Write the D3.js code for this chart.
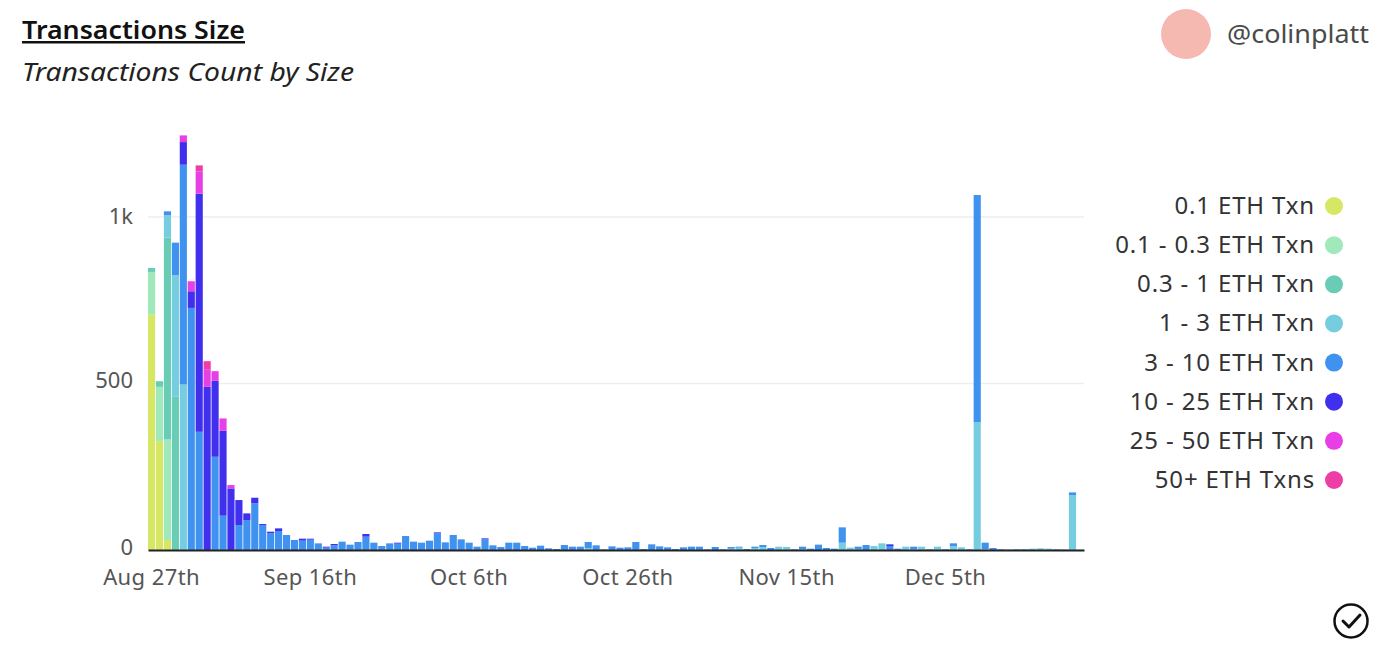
<!DOCTYPE html>
<html>
<head>
<meta charset="utf-8">
<script src="https://cdn.jsdelivr.net/npm/d3@7"></script>
<style>
html, body { margin: 0; padding: 0; background: #fff; }
text { font-family: "Noto Sans", sans-serif; }
</style>
</head>
<body>
<div id="canvas"></div>
<script>
var w = 1400;
var h = 659;

var seriesNames = ["0.1 ETH Txn", "0.1 - 0.3 ETH Txn", "0.3 - 1 ETH Txn", "1 - 3 ETH Txn", "3 - 10 ETH Txn", "10 - 25 ETH Txn", "25 - 50 ETH Txn", "50+ ETH Txns"];
var colors = ["#d6e763", "#a0e9bb", "#69cdb6", "#76cde0", "#4092f0", "#4030ee", "#e83ee6", "#ee3ea6"];

var tickIndex = [0, 20, 40, 60, 80, 100];
var tickLabels = ["Aug 27th", "Sep 16th", "Oct 6th", "Oct 26th", "Nov 15th", "Dec 5th"];
var yTicks = [0, 500, 1000];
var yTickLabels = ["0", "500", "1k"];

// one value per day
var yellow = [707,327,30,0,0,0,0,0,0,0, 0,0,0,0,0,0,0,0,0,0, 0,0,0,0,0,0,0,0,0,0, 0,0,0,0,0,0,0,0,0,0,
  0,0,0,0,0,0,0,0,0,0, 0,0,0,0,0,0,0,0,0,0, 0,0,0,0,0,0,0,0,0,0, 0,0,0,0,0,0,0,0,0,0,
  0,0,0,0,0,0,0,0,0,0, 0,0,0,0,0,0,0,0,0,0, 0,0,0,0,0,2,0,0,0,0, 0,0,0,0,0,0,0,0];
var mint = [128,163,302,0,0,0,0,0,0,0, 0,0,0,0,0,0,0,0,0,0, 0,0,0,0,0,0,0,0,0,0, 0,0,0,0,0,0,0,0,0,0,
  0,0,0,0,0,0,0,0,0,0, 0,0,0,0,0,0,0,0,0,0, 0,0,0,0,0,0,0,0,0,0, 0,0,0,0,0,0,0,0,0,0,
  0,0,0,0,0,0,0,0,0,0, 0,0,0,0,0,0,0,0,0,0, 0,0,0,0,0,0,0,0,0,0, 0,0,0,0,0,0,0,0];
var teal = [12,17,606,460,0,0,0,0,0,0, 0,0,0,0,0,0,0,0,0,0, 0,0,0,0,0,0,0,0,0,0, 0,0,0,0,0,0,0,0,0,0,
  0,0,0,0,0,0,0,0,0,0, 0,0,0,0,0,0,0,0,0,0, 0,0,0,0,0,0,0,0,0,0, 0,0,0,0,0,0,0,0,0,0,
  0,0,0,0,0,0,0,0,0,0, 0,0,0,0,0,0,0,0,0,0, 0,0,0,0,0,0,0,0,0,0, 0,0,0,0,0,0,0,0];
var light = [0,0,67,365,497,0,0,0,0,0, 0,0,0,0,0,0,0,0,0,0, 0,0,0,0,0,0,0,0,0,0, 0,0,0,0,0,0,0,0,0,0,
  0,0,0,0,0,0,0,0,0,0, 0,0,0,0,0,6,0,0,0,0, 0,0,0,0,0,0,0,0,0,0, 0,0,0,4,7,0,6,9,0,10,
  9,0,3,0,0,0,0,22,7,3, 0,12,20,0,0,10,3,10,0,10, 0,12,8,0,384,0,0,0,0,3, 3,4,5,4,3,2,165,1];
var blue = [0,0,12,98,660,727,355,0,280,103, 0,75,90,140,75,50,57,45,30,28, 31,20,7,14,25,16,24,40,22,12, 20,19,42,25,22,28,50,23,45,32,
  22,10,32,14,9,22,22,12,7,13, 5,3,15,10,10,18,14,2,11,7, 8,24,3,17,11,8,3,8,10,10, 2,9,2,5,3,3,4,6,6,0,
  0,2,7,4,16,6,4,46,0,7, 15,0,0,12,4,0,7,0,2,0, 2,8,0,2,682,20,6,2,1,0, 0,0,0,0,0,0,8,0];
var indigo = [0,0,0,0,68,50,715,490,228,255, 185,75,20,17,3,5,8,0,0,6, 3,0,3,4,0,0,0,8,0,0, 0,3,0,0,0,0,3,0,0,0,
  0,0,3,0,0,0,0,0,0,0, 0,0,0,0,0,0,0,0,0,0, 0,0,0,0,0,0,0,0,0,0, 0,0,0,0,0,0,0,0,0,0,
  0,0,0,0,0,0,0,0,0,0, 0,0,0,5,0,0,0,0,0,0, 0,0,0,0,0,0,0,0,0,0, 0,0,0,0,0,0,0,0];
var magenta = [0,0,0,0,20,30,67,53,29,37, 10,0,0,0,0,0,0,0,0,0, 0,0,0,0,0,0,0,0,0,0, 0,0,0,0,0,0,0,0,0,0,
  0,0,0,0,0,0,0,0,0,0, 0,0,0,0,0,0,0,0,0,0, 0,0,0,0,0,0,0,0,0,0, 0,0,0,0,0,0,0,0,0,0,
  0,0,0,0,0,0,0,0,0,0, 0,0,0,0,0,0,0,0,0,0, 0,0,0,0,0,0,0,0,0,0, 0,0,0,0,0,0,0,0];
var pink = [0,0,0,0,0,0,18,24,0,0, 0,0,0,0,0,0,0,0,0,0, 0,0,0,0,0,0,0,0,0,0, 0,0,0,0,0,0,0,0,0,0,
  0,0,0,0,0,0,0,0,0,0, 0,0,0,0,0,0,0,0,0,0, 0,0,0,0,0,0,0,0,0,0, 0,0,0,0,0,0,0,0,0,0,
  0,0,0,0,0,0,0,0,0,0, 0,0,0,0,0,0,0,0,0,0, 0,0,0,0,0,0,0,0,0,0, 0,0,0,0,0,0,0,0];

var allSeries = [yellow, mint, teal, light, blue, indigo, magenta, pink];

var svg = d3.select("#canvas").append("svg")
	.attr("width", w)
	.attr("height", h)
	.style("display", "block")
	.style("background-color", "white");

// header
svg.append("text")
	.attr("x", 22).attr("y", 39)
	.attr("font-size", 25).attr("font-weight", 600)
	.attr("text-decoration", "underline")
	.attr("fill", "#111")
	.attr("textLength", 223).attr("lengthAdjust", "spacingAndGlyphs")
	.text("Transactions Size");
svg.append("text")
	.attr("x", 22).attr("y", 81)
	.attr("font-size", 26).attr("font-style", "italic")
	.attr("fill", "#222")
	.attr("textLength", 332).attr("lengthAdjust", "spacingAndGlyphs")
	.text("Transactions Count by Size");

svg.append("circle")
	.attr("cx", 1186).attr("cy", 34).attr("r", 25)
	.attr("fill", "#f5b9b1");
svg.append("text")
	.attr("x", 1227).attr("y", 43)
	.attr("font-size", 25)
	.attr("fill", "#4a4a4a")
	.attr("textLength", 142).attr("lengthAdjust", "spacingAndGlyphs")
	.text("@colinplatt");

// scales
var days = d3.range(yellow.length);
var xScale = d3.scaleBand()
	.domain(days)
	.range([148, 1084])
	.paddingInner(0.1)
	.paddingOuter(0);
var yScale = d3.scaleLinear()
	.domain([0, 1000])
	.range([550, 217]);

// gridlines
svg.selectAll(".grid")
	.data(yTicks.slice(1))
	.join("line")
	.attr("class", "grid")
	.attr("x1", 148)
	.attr("x2", 1084)
	.attr("y1", function(d){ return yScale(d); })
	.attr("y2", function(d){ return yScale(d); })
	.attr("stroke", "#eeeeee")
	.attr("stroke-width", 1.5);

// stacked bars
var rows = days.map(function(i){
	var row = {day: i};
	seriesNames.forEach(function(name, s){ row[name] = allSeries[s][i]; });
	return row;
});
var stacked = d3.stack().keys(seriesNames)(rows);

svg.selectAll(".layer")
	.data(stacked)
	.join("g")
	.attr("class", "layer")
	.attr("fill", function(d,i){ return colors[i]; })
	.selectAll("rect")
	.data(function(d){ return d.filter(function(v){ return v[1] > v[0]; }); })
	.join("rect")
	.attr("x", function(d){ return xScale(d.data.day); })
	.attr("width", xScale.bandwidth())
	.attr("y", function(d){ return yScale(d[1]); })
	.attr("height", function(d){ return yScale(d[0]) - yScale(d[1]); });

// axes
var xAxis = d3.axisBottom(xScale)
	.tickValues(tickIndex)
	.tickSize(0)
	.tickPadding(19)
	.tickFormat(function(d,i){ return tickLabels[i]; });
var xG = svg.append("g")
	.attr("transform", "translate(0,550)")
	.call(xAxis);
xG.select(".domain").attr("stroke", "#222").attr("stroke-width", 2);
xG.selectAll("text")
	.attr("font-size", 22)
	.attr("fill", "#555")
	.style("letter-spacing", "0.4px")
	.style("font-family", '"Noto Sans", sans-serif');

var yAxis = d3.axisLeft(yScale)
	.tickValues(yTicks)
	.tickSize(0)
	.tickPadding(15)
	.tickFormat(function(d,i){ return yTickLabels[i]; });
var yG = svg.append("g")
	.attr("transform", "translate(148,0)")
	.call(yAxis);
yG.select(".domain").remove();
yG.selectAll("text")
	.attr("y", function(d){ return d == 1000 ? -1 : -3; })
	.attr("font-size", 22)
	.attr("fill", "#555")
	.style("font-family", '"Noto Sans", sans-serif');

// legend
var legendY = d3.scalePoint()
	.domain(seriesNames)
	.range([206, 480]);
var legend = svg.selectAll(".legend")
	.data(seriesNames)
	.join("g")
	.attr("class", "legend")
	.attr("transform", function(d){ return "translate(0," + legendY(d) + ")"; });
legend.append("text")
	.attr("x", 1315)
	.attr("y", 8)
	.attr("text-anchor", "end")
	.attr("font-size", 24)
	.style("letter-spacing", "0.85px")
	.attr("fill", "#333")
	.text(function(d){ return d; });
legend.append("circle")
	.attr("cx", 1334)
	.attr("r", 9)
	.attr("fill", function(d,i){ return colors[i]; });

// check icon
svg.append("circle")
	.attr("cx", 1351).attr("cy", 621).attr("r", 16.5)
	.attr("fill", "none").attr("stroke", "#111").attr("stroke-width", 2.5);
svg.append("path")
	.attr("d", "M1343,621 L1349,627 L1360,615")
	.attr("fill", "none").attr("stroke", "#111").attr("stroke-width", 3)
	.attr("stroke-linecap", "round").attr("stroke-linejoin", "round");
</script>
</body>
</html>
